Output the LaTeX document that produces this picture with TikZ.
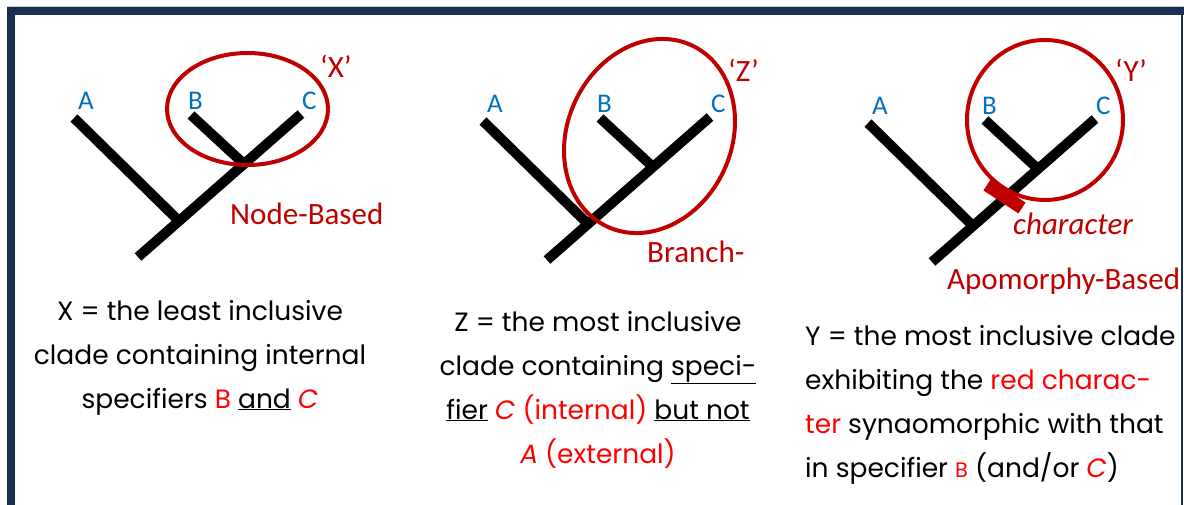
\documentclass[tikz,border=0pt]{standalone}
\usepackage{fontspec}
\setmainfont{Carlito}
\newfontfamily\defnfont{Poppins}
\usepackage{tikz}
\definecolor{navy}{RGB}{27,47,82}
\definecolor{cladered}{RGB}{192,0,0}
\definecolor{taxonblue}{RGB}{0,112,192}
\definecolor{txtred}{RGB}{255,0,0}
\tikzset{
  branch/.style   = {line width=10pt,black},
  clade/.style    = {line width=4pt,cladered},
  apobar/.style   = {line width=13pt,cladered},
  taxon/.style    = {anchor=base west,inner sep=0pt,text=taxonblue,font=\fontsize{27}{27}\selectfont},
  kind/.style     = {anchor=base west,inner sep=0pt,text=cladered,font=\fontsize{31}{31}\selectfont},
  defn/.style     = {inner sep=0pt,font=\defnfont\fontsize{26.5}{44}\selectfont}
}
\newcommand{\rd}[1]{\textcolor{txtred}{#1}}
\newcommand{\cladogram}[3]{%
  \begin{scope}[shift={(#2,#3)}]
    \coordinate (#1root) at (0,0);
    \coordinate (#1nA) at (41,-36);
    \coordinate (#1nB) at (106,-93);
    \coordinate (#1tA) at (-64,-139);
    \coordinate (#1tB) at (53,-142);
    \coordinate (#1tC) at (163,-143);
    \node[taxon] (#1A) at (-60,-147) {A};
    \node[taxon] (#1B) at (50,-147) {B};
    \node[taxon] (#1C) at (164,-147) {C};
  \end{scope}
  \draw[branch] (#1root) -- (#1tC);
  \draw[branch] (#1nA) -- (#1tA);
  \draw[branch] (#1nB) -- (#1tB);
}
\begin{document}
\begin{tikzpicture}[x=1pt,y=-1pt]
  \useasboundingbox (0,0) rectangle (1184,505);
  \fill[navy] (7,7) rectangle (1184,15);
  \fill[navy] (7,7) rectangle (15,505);
  \draw[gray!40,line width=1pt] (7,6.5) -- (1184,6.5);
  \draw[navy,line width=1.5pt] (1182,15) -- (1182,505);

  \cladogram{x}{138}{257}
  \draw[clade] (247.5,109) ellipse [x radius=80.5,y radius=56];
  \node[kind] (xname) at (320,78) {‘X’};
  \node[kind] (xkind) at (230,225) {Node-Based};

  \cladogram{z}{547}{260}
  \draw[clade,rotate around={-25:(649.5,136)}] (649.5,136) ellipse [x radius=82,y radius=100];
  \node[kind] (zname) at (728,82) {‘Z’};
  \node[kind] (zkind) at (647,263) {Branch-};

  \cladogram{y}{932}{262}
  \draw[clade] (1045,120) ellipse [x radius=78,y radius=80];
  \draw[apobar] ([shift={(55,-77)}]yroot) -- ([shift={(90,-54)}]yroot);
  \node[kind] (yname) at (1115,82) {‘Y’};
  \node[kind,font=\itshape\fontsize{31}{31}\selectfont] (ychar) at (1013,235) {character};
  \node[kind] (ykind) at (947,290) {Apomorphy-Based};

  \node[defn,align=center,anchor=base] (xdef) at (200,408)
    {X = the least inclusive\\clade containing internal\\specifiers \rd{B} \underline{and} \rd{\textit{C}}};
  \node[defn,align=center,anchor=base] (zdef) at (598,463)
    {Z = the most inclusive\\clade containing \underline{speci-}\\\underline{fier} \rd{\textit{C} (internal)} \underline{but not}\\\rd{\textit{A} (external)}};
  \node[defn,align=left,anchor=base west] (ydef) at (805,477)
    {Y = the most inclusive clade\\exhibiting the \rd{red charac-}\\\rd{ter} synaomorphic with that\\in specifier \rd{\fontsize{21}{44}\selectfont B} (and/or \rd{\textit{C}})};
\end{tikzpicture}
\end{document}
